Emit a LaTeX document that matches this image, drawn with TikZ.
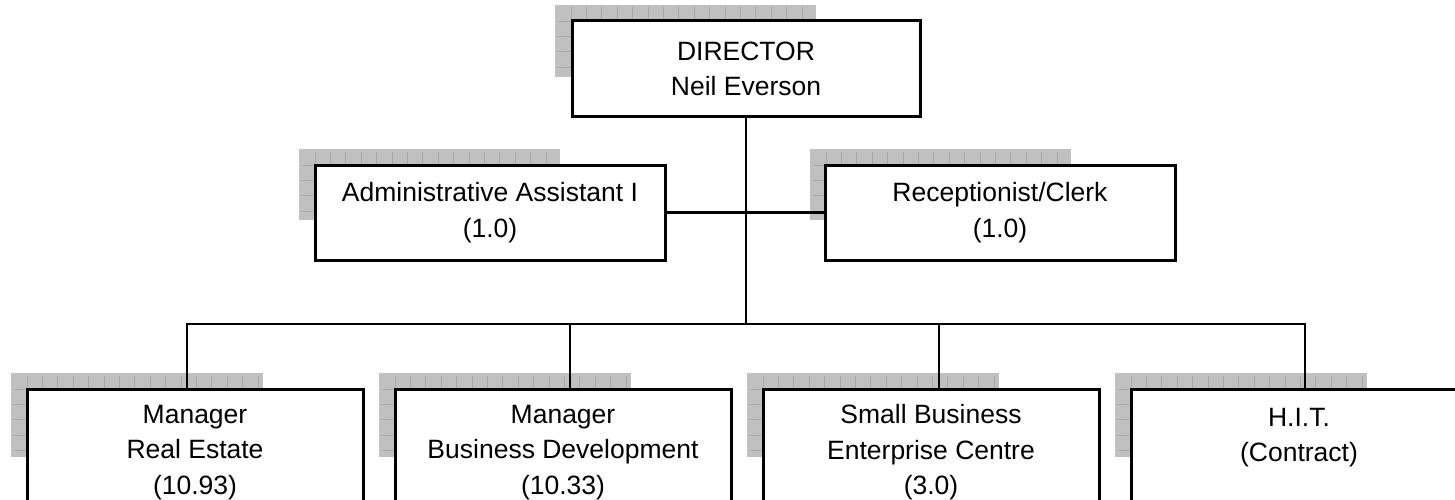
\documentclass[tikz,border=0pt]{standalone}
\usepackage{fontspec}
\setmainfont{Liberation Sans}
\usepackage{tikz}
\definecolor{shadefill}{HTML}{C0C0C0}
\definecolor{shadeline}{HTML}{A8A8A8}
\newcommand\gridpatch[4]{%
  \fill[shadefill] (#1,-#2) rectangle ++(#3,-#4);
  \begin{scope}
    \clip (#1+3,-#2-3) rectangle (#1+#3,-#2-#4);
    \draw[shadeline,line width=0.9pt,step=15.4pt,shift={(#1+16,-#2-16)}] (-20,20) grid (#3,-#4-20);
  \end{scope}}

\begin{document}
\begin{tikzpicture}[x=1pt,y=1pt,
   box/.style={draw,line width=3pt,fill=white,inner sep=0pt,align=center,
     font=\fontsize{26.5}{35.5}\selectfont},
   topbox/.style={box,minimum width=348pt,minimum height=96pt},
   midbox/.style={box,minimum width=350pt,minimum height=95pt},
   lowbox/.style={box,minimum width=336pt,minimum height=127pt},
   link/.style={line width=2.3pt}]
   \useasboundingbox (0,0) rectangle (1455,-500);
   \clip (0,0) rectangle (1455,-500);

   \gridpatch{555}{5}{261}{72}
   \gridpatch{299}{149}{261}{71}
   \gridpatch{810}{149}{261}{71}
   \gridpatch{11}{373}{252}{84}
   \gridpatch{379}{373}{252}{84}
   \gridpatch{747}{373}{252}{84}
   \gridpatch{1115}{373}{252}{84}

   \node[topbox] (dir) at (746,-69) {DIRECTOR\\Neil Everson};
   \node[midbox] (adm) at (490,-212.5) {Administrative Assistant I\\(1.0)};
   \node[midbox] (rec) at (1000,-212.5) {Receptionist/Clerk\\(1.0)};
   \node[lowbox] (mre) at (195,-452.5) {Manager\\Real Estate\\(10.93)};
   \node[lowbox] (mbd) at (563,-452.5) {Manager\\Business Development\\(10.33)};
   \node[lowbox] (sbe) at (931,-452.5) {Small Business\\Enterprise Centre\\(3.0)};
   \node[lowbox] (hit) at (1299,-452.5) {H.I.T.\\(Contract)\\\mbox{}};

   \coordinate (bus) at (746,-324);
   \coordinate (j1) at (187,-324);
   \coordinate (j2) at (570,-324);
   \coordinate (j3) at (939,-324);
   \coordinate (j4) at (1305,-324);

   \draw[link] (dir) -- (bus);
   \draw[link] (adm) -- (rec);
   \draw[link] (j1 |- mre.north) -- (j1) -- (j4) -- (j4 |- hit.north);
   \draw[link] (j2) -- (j2 |- mbd.north);
   \draw[link] (j3) -- (j3 |- sbe.north);
\end{tikzpicture}
\end{document}
